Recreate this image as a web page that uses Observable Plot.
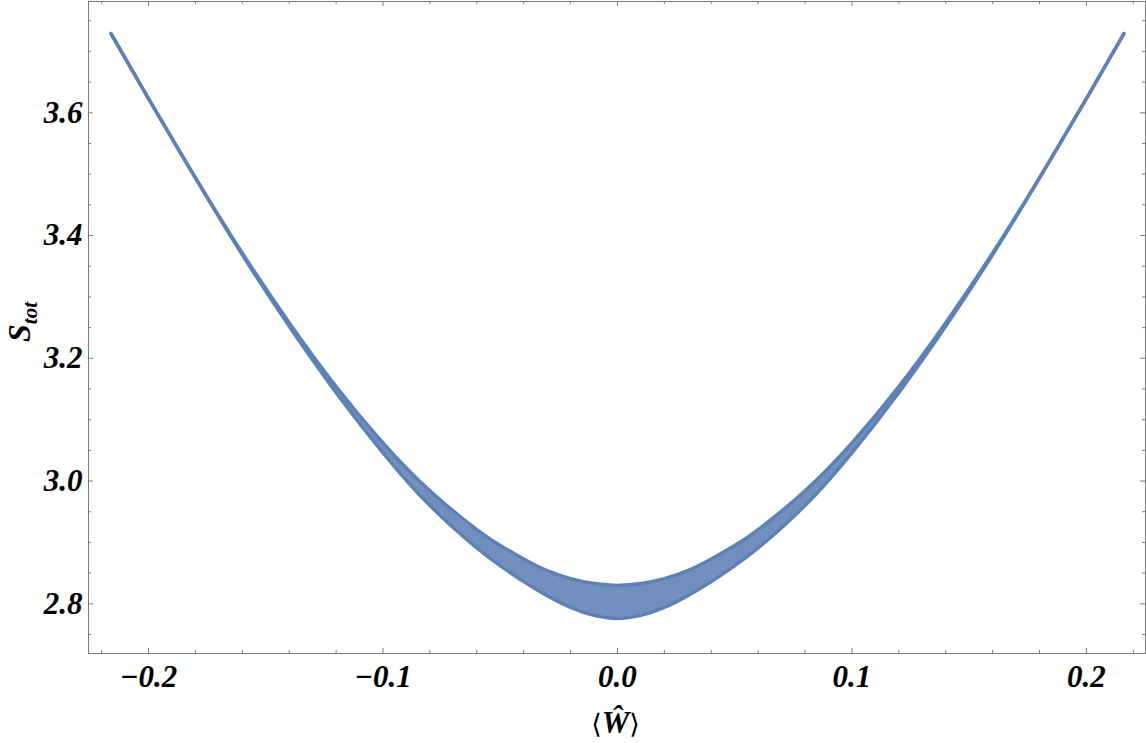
<!DOCTYPE html>
<html>
<head>
<meta charset="utf-8">
<script src="https://cdn.jsdelivr.net/npm/d3@7"></script>
<script src="https://cdn.jsdelivr.net/npm/@observablehq/plot@0.6"></script>
<style>
  html, body { margin: 0; padding: 0; background: #fff; }
  #chart svg { display: block; }
</style>
</head>
<body>
<div id="chart"></div>
<script>
// Tick values
const xMajorTicks = [-0.2, -0.1, 0.0, 0.1, 0.2];
const xMinorTicks = [-0.22, -0.18, -0.16, -0.14, -0.12, -0.08, -0.06, -0.04, -0.02, 0.02, 0.04, 0.06, 0.08, 0.12, 0.14, 0.16, 0.18, 0.22];
const yMajorTicks = [2.8, 3.0, 3.2, 3.4, 3.6];
const yMinorTicks = [2.75, 2.85, 2.9, 2.95, 3.05, 3.1, 3.15, 3.25, 3.3, 3.35, 3.45, 3.5, 3.55, 3.65, 3.7, 3.75];

// Band of the scatter cloud (point-centre boundaries)
const bandX     = [-0.216, -0.20, -0.18, -0.16, -0.14, -0.12, -0.10, -0.08, -0.06, -0.05, -0.04, -0.03, -0.02, -0.01, 0.00, 0.01, 0.02, 0.03, 0.04, 0.05, 0.06, 0.08, 0.10, 0.12, 0.14, 0.16, 0.18, 0.20, 0.216];
const bandLower = [3.729, 3.623, 3.4935, 3.3685, 3.252, 3.144, 3.046, 2.960, 2.891, 2.862, 2.836, 2.813, 2.794, 2.781, 2.776, 2.781, 2.794, 2.813, 2.836, 2.862, 2.891, 2.960, 3.046, 3.144, 3.252, 3.3685, 3.4935, 3.623, 3.729];
const bandUpper = [3.729, 3.623, 3.4945, 3.3715, 3.258, 3.154, 3.062, 2.984, 2.921, 2.895, 2.873, 2.854, 2.841, 2.833, 2.830, 2.833, 2.841, 2.854, 2.873, 2.895, 2.921, 2.984, 3.062, 3.154, 3.258, 3.3715, 3.4945, 3.623, 3.729];

const band = bandX.map((x, i) => ({x, lo: bandLower[i], hi: bandUpper[i]}));

const W = 1146, H = 743;
const mL = 88, mR = 1, mT = 1, mB = 90;
const plotW = W - mL - mR, plotH = H - mT - mB;
const blue = "#5E81B5";
const frameColor = "#7a7a7a";
const fmt = d => (d < 0 ? "\u2212" : "") + Math.abs(d).toFixed(1);
const tickFont = {fontFamily: "Liberation Serif, Times New Roman, serif", fontSize: 31, fontWeight: "bold", fontStyle: "italic", fill: "black"};

const svg = Plot.plot({
  width: W, height: H,
  marginLeft: mL, marginRight: mR, marginTop: mT, marginBottom: mB,
  x: {domain: [-0.2256, 0.2252], axis: null},
  y: {domain: [2.719, 3.7813], axis: null},
  marks: [
    Plot.areaY(band, {x: "x", y1: "lo", y2: "hi", fill: blue, fillOpacity: 0.88, curve: "natural"}),
    Plot.line(band, {x: "x", y: "lo", stroke: blue, strokeWidth: 3.4, curve: "natural"}),
    Plot.line(band, {x: "x", y: "hi", stroke: blue, strokeWidth: 3.4, curve: "natural"}),
    // ticks, inward on all four sides
    Plot.ruleX(xMajorTicks, {x: d => d, insetTop: plotH - 5, stroke: frameColor}),
    Plot.ruleX(xMinorTicks, {x: d => d, insetTop: plotH - 3, stroke: frameColor}),
    Plot.ruleX(xMajorTicks, {x: d => d, insetBottom: plotH - 5, stroke: frameColor}),
    Plot.ruleX(xMinorTicks, {x: d => d, insetBottom: plotH - 3, stroke: frameColor}),
    Plot.ruleY(yMajorTicks, {y: d => d, insetRight: plotW - 5, stroke: frameColor}),
    Plot.ruleY(yMinorTicks, {y: d => d, insetRight: plotW - 3, stroke: frameColor}),
    Plot.ruleY(yMajorTicks, {y: d => d, insetLeft: plotW - 5, stroke: frameColor}),
    Plot.ruleY(yMinorTicks, {y: d => d, insetLeft: plotW - 3, stroke: frameColor}),
    Plot.frame({stroke: frameColor, strokeWidth: 1}),
    // tick labels
    Plot.text(xMajorTicks, {x: d => d, frameAnchor: "bottom", dy: 24, text: fmt, lineAnchor: "middle", ...tickFont}),
    Plot.text(yMajorTicks, {y: d => d, frameAnchor: "left", dx: -6, text: fmt, textAnchor: "end", lineAnchor: "middle", ...tickFont})
  ]
});

const sel = d3.select(svg);
// x-axis title  ⟨Ŵ⟩
const xt = sel.append("text")
  .attr("x", mL + plotW / 2 - 1)
  .attr("y", 733)
  .attr("text-anchor", "middle")
  .attr("font-family", "Liberation Serif, Times New Roman, serif")
  .attr("font-size", 31)
  .attr("fill", "black");
xt.append("tspan").attr("font-family", "DejaVu Serif, serif").attr("font-size", 27).text("\u27E8");
xt.append("tspan").attr("font-weight", "bold").attr("font-style", "italic").text("\u0174");
xt.append("tspan").attr("font-family", "DejaVu Serif, serif").attr("font-size", 27).text("\u27E9");

// y-axis title  S_tot
const yt = sel.append("text")
  .attr("transform", `translate(30, ${mT + plotH / 2 - 5}) rotate(-90)`)
  .attr("text-anchor", "middle")
  .attr("font-family", "Liberation Serif, Times New Roman, serif")
  .attr("font-weight", "bold")
  .attr("font-style", "italic")
  .attr("font-size", 32)
  .attr("fill", "black");
yt.append("tspan").text("S");
yt.append("tspan").attr("font-size", 21).attr("dy", 7).text("tot");

document.getElementById("chart").appendChild(svg);
</script>
</body>
</html>
